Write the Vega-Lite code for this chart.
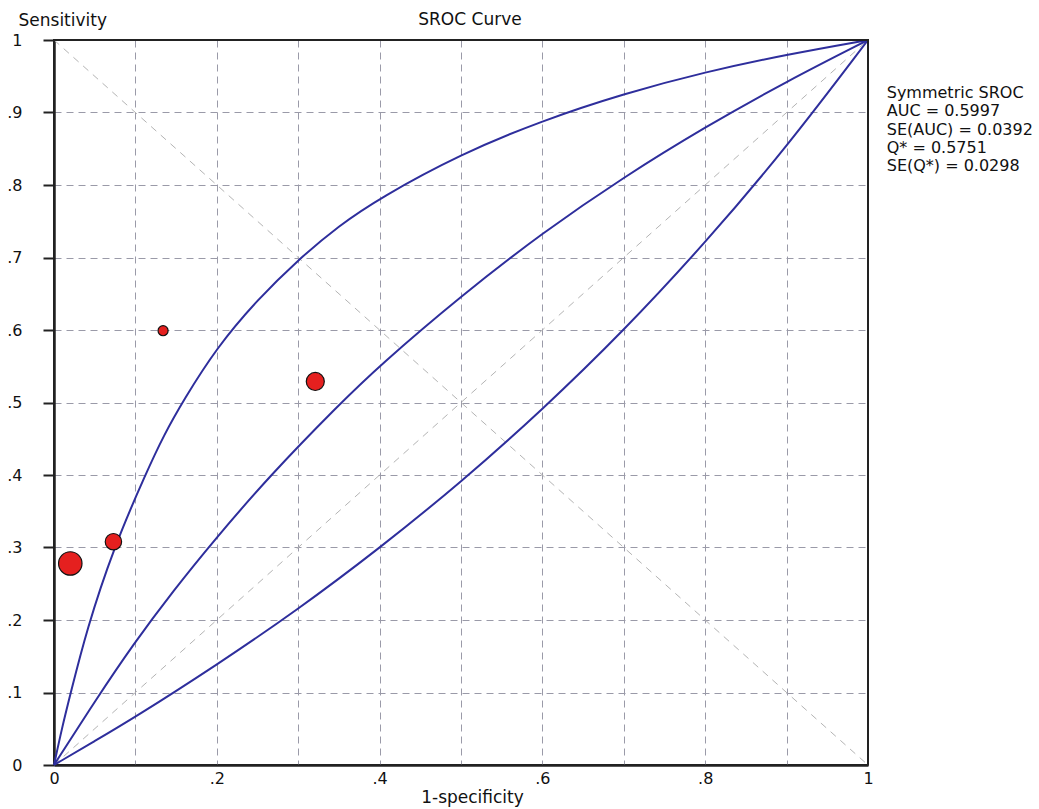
{
  "$schema": "https://vega.github.io/schema/vega-lite/v6.json",
  "autosize": "none",
  "width": 814,
  "height": 725,
  "padding": {"left": 54, "top": 40, "right": 171, "bottom": 44},
  "background": "white",
  "config": {
    "view": {"stroke": "#222", "strokeWidth": 2},
    "axis": {
      "labelFont": "DejaVu Sans",
      "titleFont": "DejaVu Sans",
      "labelFontSize": 16,
      "titleFontSize": 17,
      "titleFontWeight": "normal",
      "labelColor": "#111",
      "titleColor": "#111",
      "domainColor": "#222",
      "domainWidth": 2.5,
      "grid": true,
      "gridColor": "#9a9aa8",
      "gridDash": [7, 5],
      "gridWidth": 1,
      "gridOpacity": 1
    }
  },
  "datasets": {
    "curves": [
      {"curve": "upper", "x": 0, "y": 0},
      {"curve": "upper", "x": 0.01, "y": 0.052},
      {"curve": "upper", "x": 0.02, "y": 0.097},
      {"curve": "upper", "x": 0.04, "y": 0.186},
      {"curve": "upper", "x": 0.073, "y": 0.299},
      {"curve": "upper", "x": 0.114, "y": 0.405},
      {"curve": "upper", "x": 0.135, "y": 0.455},
      {"curve": "upper", "x": 0.159, "y": 0.503},
      {"curve": "upper", "x": 0.2, "y": 0.576},
      {"curve": "upper", "x": 0.25, "y": 0.642},
      {"curve": "upper", "x": 0.3, "y": 0.697},
      {"curve": "upper", "x": 0.35, "y": 0.744},
      {"curve": "upper", "x": 0.4, "y": 0.782},
      {"curve": "upper", "x": 0.5, "y": 0.843},
      {"curve": "upper", "x": 0.6, "y": 0.889},
      {"curve": "upper", "x": 0.7, "y": 0.926},
      {"curve": "upper", "x": 0.8, "y": 0.956},
      {"curve": "upper", "x": 0.9, "y": 0.98},
      {"curve": "upper", "x": 1, "y": 1},
      {"curve": "middle", "x": 0, "y": 0},
      {"curve": "middle", "x": 0.052, "y": 0.091},
      {"curve": "middle", "x": 0.097, "y": 0.166},
      {"curve": "middle", "x": 0.147, "y": 0.241},
      {"curve": "middle", "x": 0.196, "y": 0.309},
      {"curve": "middle", "x": 0.265, "y": 0.399},
      {"curve": "middle", "x": 0.35, "y": 0.497},
      {"curve": "middle", "x": 0.4, "y": 0.551},
      {"curve": "middle", "x": 0.5, "y": 0.647},
      {"curve": "middle", "x": 0.6, "y": 0.734},
      {"curve": "middle", "x": 0.7, "y": 0.811},
      {"curve": "middle", "x": 0.8, "y": 0.88},
      {"curve": "middle", "x": 0.9, "y": 0.943},
      {"curve": "middle", "x": 1, "y": 1},
      {"curve": "lower", "x": 0, "y": 0},
      {"curve": "lower", "x": 0.05, "y": 0.033},
      {"curve": "lower", "x": 0.097, "y": 0.064},
      {"curve": "lower", "x": 0.2, "y": 0.138},
      {"curve": "lower", "x": 0.298, "y": 0.213},
      {"curve": "lower", "x": 0.4, "y": 0.299},
      {"curve": "lower", "x": 0.5, "y": 0.39},
      {"curve": "lower", "x": 0.6, "y": 0.49},
      {"curve": "lower", "x": 0.7, "y": 0.599},
      {"curve": "lower", "x": 0.8, "y": 0.72},
      {"curve": "lower", "x": 0.9, "y": 0.852},
      {"curve": "lower", "x": 1, "y": 1}
    ],
    "diag": [
      {"line": "a", "x": 0, "y": 0},
      {"line": "a", "x": 1, "y": 1},
      {"line": "b", "x": 0, "y": 1},
      {"line": "b", "x": 1, "y": 0}
    ],
    "studies": [
      {"x": 0.02, "y": 0.278, "weight": 49},
      {"x": 0.073, "y": 0.308, "weight": 24},
      {"x": 0.134, "y": 0.599, "weight": 9},
      {"x": 0.321, "y": 0.529, "weight": 29}
    ]
  },
  "layer": [
    {
      "data": {"name": "diag"},
      "mark": {"type": "line", "color": "#b4b4b4", "strokeWidth": 1, "strokeDash": [7, 6]},
      "encoding": {
        "x": {
          "field": "x",
          "type": "quantitative",
          "scale": {"domain": [0, 1], "nice": false},
          "axis": {
            "title": "1-specificity",
            "titleX": 418,
            "titlePadding": 3,
            "values": [0, 0.1, 0.2, 0.3, 0.4, 0.5, 0.6, 0.7, 0.8, 0.9, 1],
            "ticks": false,
            "labelPadding": 5,
            "labelFlush": false,
            "labelOverlap": false,
            "labelExpr": "round(datum.value * 10) % 2 != 0 ? '' : (datum.value == 0 ? '0' : (datum.value == 1 ? '1' : replace(format(datum.value, '.1f'), '0.', '.')))"
          }
        },
        "y": {
          "field": "y",
          "type": "quantitative",
          "scale": {"domain": [0, 1], "nice": false},
          "axis": {
            "title": "Sensitivity",
            "titleAngle": 0,
            "titleAlign": "left",
            "titleBaseline": "alphabetic",
            "titleX": -36,
            "titleY": -15,
            "values": [0, 0.1, 0.2, 0.3, 0.4, 0.5, 0.6, 0.7, 0.8, 0.9, 1],
            "ticks": true,
            "tickSize": 11,
            "tickWidth": 2,
            "tickColor": "#222",
            "labelPadding": 21,
            "labelFlush": false,
            "labelOverlap": false,
            "labelExpr": "datum.value == 0 ? '0' : (datum.value == 1 ? '1' : replace(format(datum.value, '.1f'), '0.', '.'))"
          }
        },
        "detail": {"field": "line", "type": "nominal"}
      }
    },
    {
      "data": {"name": "curves"},
      "mark": {"type": "line", "color": "#2e2e9c", "strokeWidth": 2, "interpolate": "basis"},
      "encoding": {
        "x": {"field": "x", "type": "quantitative", "title": "1-specificity"},
        "y": {"field": "y", "type": "quantitative", "title": "Sensitivity"},
        "detail": {"field": "curve", "type": "nominal"}
      }
    },
    {
      "data": {"values": [{}]},
      "mark": {"type": "rule", "color": "#222", "strokeWidth": 2},
      "encoding": {"x": {"datum": 1, "type": "quantitative"}}
    },
    {
      "data": {"values": [{}]},
      "mark": {"type": "rule", "color": "#222", "strokeWidth": 2},
      "encoding": {"y": {"datum": 1, "type": "quantitative"}}
    },
    {
      "data": {"name": "studies"},
      "mark": {"type": "circle", "fill": "#e5201f", "stroke": "#111", "strokeWidth": 1.2, "opacity": 1},
      "encoding": {
        "x": {"field": "x", "type": "quantitative", "title": "1-specificity"},
        "y": {"field": "y", "type": "quantitative", "title": "Sensitivity"},
        "size": {
          "field": "weight",
          "type": "quantitative",
          "scale": {"domain": [0, 50], "range": [0, 560]},
          "legend": null
        }
      }
    },
    {
      "data": {"values": [{}]},
      "mark": {
        "type": "text",
        "align": "center",
        "baseline": "alphabetic",
        "font": "DejaVu Sans",
        "fontSize": 17,
        "color": "#111",
        "text": "SROC Curve"
      },
      "encoding": {
        "x": {"datum": 0.511, "type": "quantitative"},
        "y": {"datum": 1.0207, "type": "quantitative"}
      }
    },
    {
      "data": {"values": [{}]},
      "mark": {
        "type": "text",
        "align": "left",
        "baseline": "alphabetic",
        "font": "DejaVu Sans",
        "fontSize": 16,
        "lineHeight": 18.3,
        "color": "#111",
        "text": ["Symmetric SROC", "AUC = 0.5997", "SE(AUC) = 0.0392", "Q* = 0.5751", "SE(Q*) = 0.0298"]
      },
      "encoding": {
        "x": {"datum": 1.023, "type": "quantitative"},
        "y": {"datum": 0.92, "type": "quantitative"}
      }
    }
  ]
}
